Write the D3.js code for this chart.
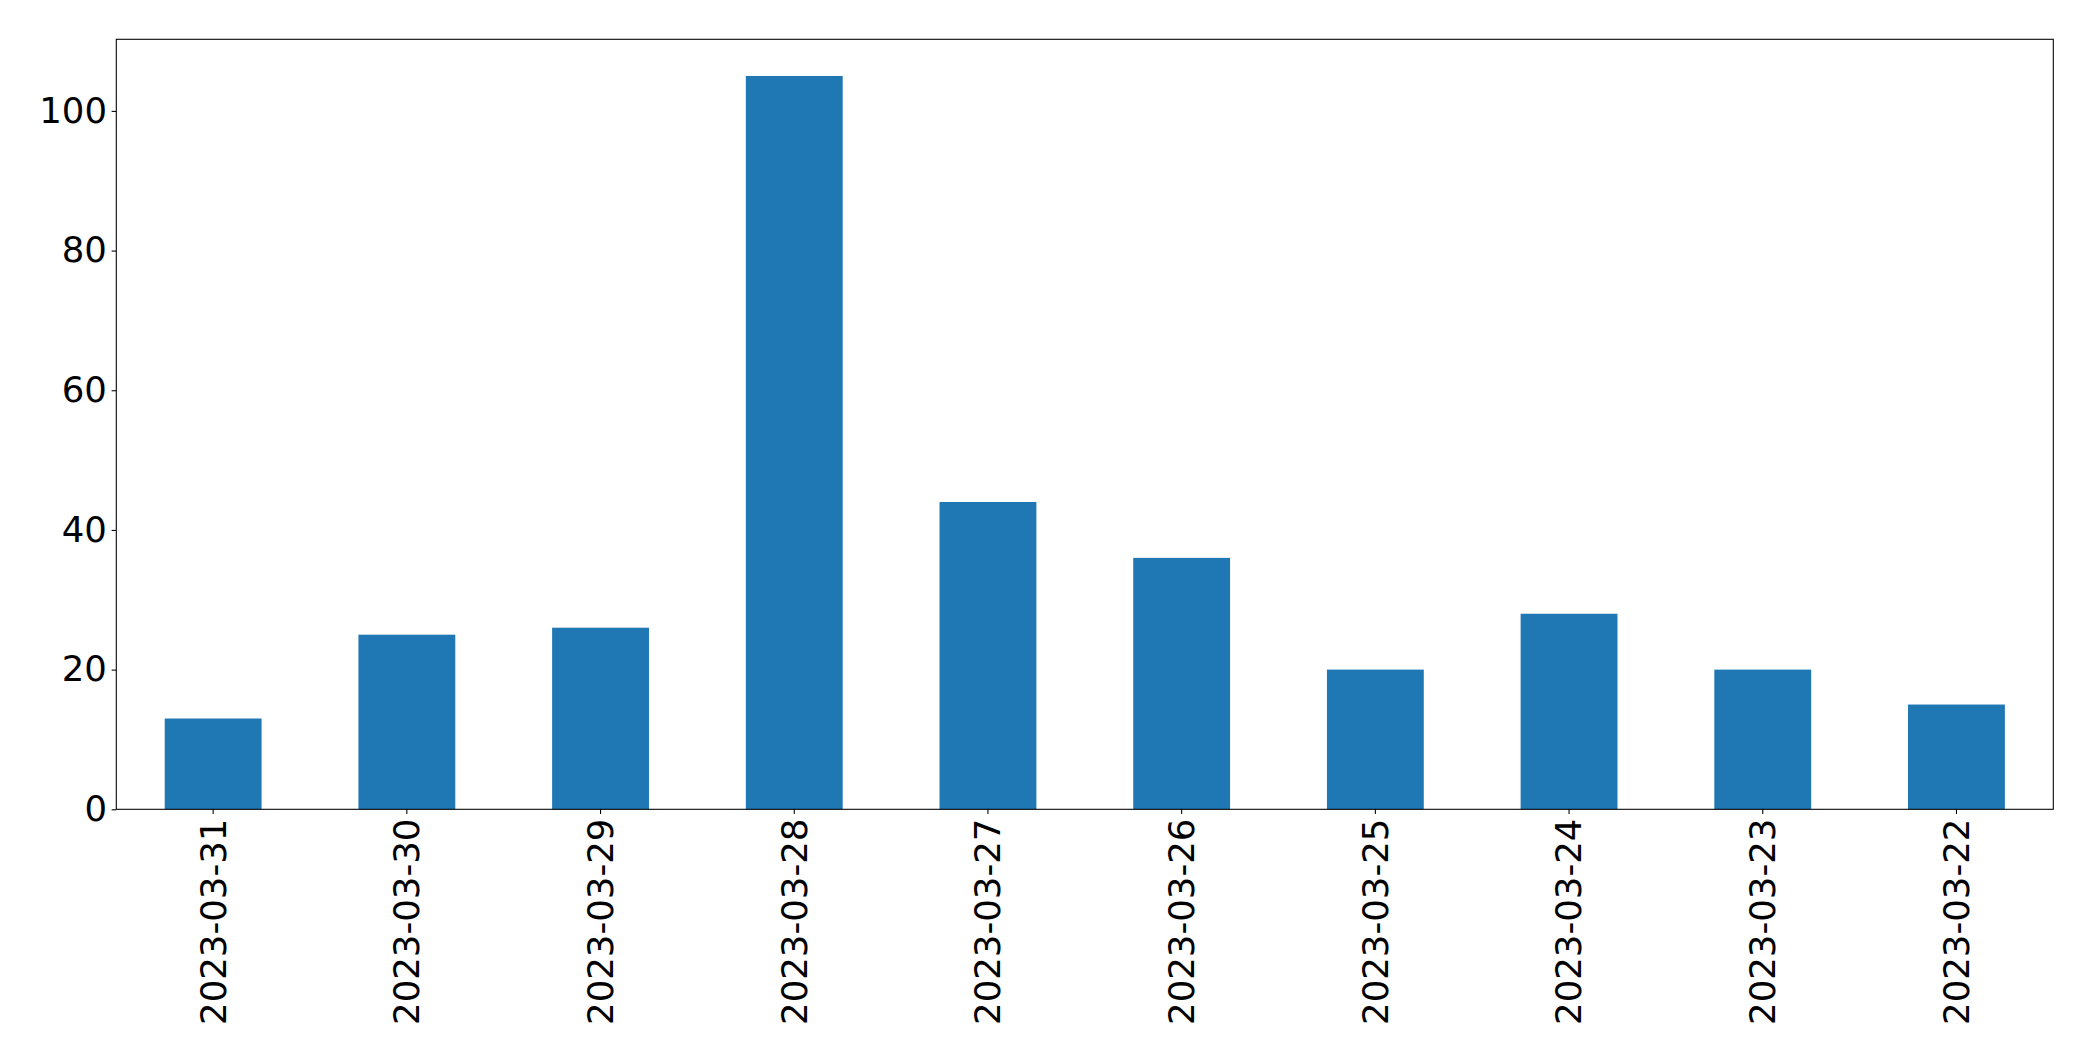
<!DOCTYPE html>
<html>
<head>
<meta charset="utf-8">
<script src="https://cdn.jsdelivr.net/npm/d3@7"></script>
<style>
  html, body { margin: 0; padding: 0; background: #fff; }
  svg { display: block; }
</style>
</head>
<body>
<svg id="chart" width="2093" height="1061"></svg>
<script>
const categories = ["2023-03-31","2023-03-30","2023-03-29","2023-03-28","2023-03-27","2023-03-26","2023-03-25","2023-03-24","2023-03-23","2023-03-22"];
const values = [13, 25, 26, 105, 44, 36, 20, 28, 20, 15];
const yTicks = [0, 20, 40, 60, 80, 100];

(function () {
const mLeft = 116.3, mRight = 2053.3, mTop = 39.3, mBottom = 809.3;
const fontSize = 35.5;
const tickLen = 4.67, pad = 4.67;

const svg = d3.select("#chart");

const x = d3.scaleBand().domain(categories).range([mLeft, mRight]).paddingInner(0.5).paddingOuter(0.25);
const ymax = d3.max(values) * 1.05;
const y = d3.scaleLinear().domain([0, ymax]).range([mBottom, mTop]);

// bars
svg.append("g").selectAll("rect").data(values).join("rect")
  .attr("x", (d, i) => x(categories[i]))
  .attr("width", x.bandwidth())
  .attr("y", d => y(d))
  .attr("height", d => y(0) - y(d))
  .attr("fill", "#1f77b4");

// y axis
const yAxis = d3.axisLeft(y).tickValues(yTicks).tickSize(tickLen).tickPadding(pad).tickFormat(d3.format("d"));
const gy = svg.append("g").attr("transform", `translate(${mLeft},0)`).call(yAxis);
gy.select(".domain").remove();
gy.selectAll(".tick line").attr("stroke", "#000").attr("stroke-width", 1.07);
gy.selectAll(".tick text").attr("font-family", "DejaVu Sans").attr("font-size", fontSize).attr("fill", "#000");

// x axis
const xAxis = d3.axisBottom(x).tickSize(tickLen).tickPadding(pad);
const gx = svg.append("g").attr("transform", `translate(0,${mBottom})`).call(xAxis);
gx.select(".domain").remove();
gx.selectAll(".tick line").attr("stroke", "#000").attr("stroke-width", 1.07);
gx.selectAll(".tick text")
  .attr("font-family", "DejaVu Sans").attr("font-size", fontSize).attr("fill", "#000")
  .attr("transform", "rotate(-90)")
  .attr("text-anchor", "end")
  .attr("x", -(tickLen + pad))
  .attr("y", 0)
  .attr("dy", "0.35em");

// frame
svg.append("rect")
  .attr("x", mLeft).attr("y", mTop)
  .attr("width", mRight - mLeft).attr("height", mBottom - mTop)
  .attr("fill", "none").attr("stroke", "#000").attr("stroke-width", 1.07);
})();
</script>
</body>
</html>
